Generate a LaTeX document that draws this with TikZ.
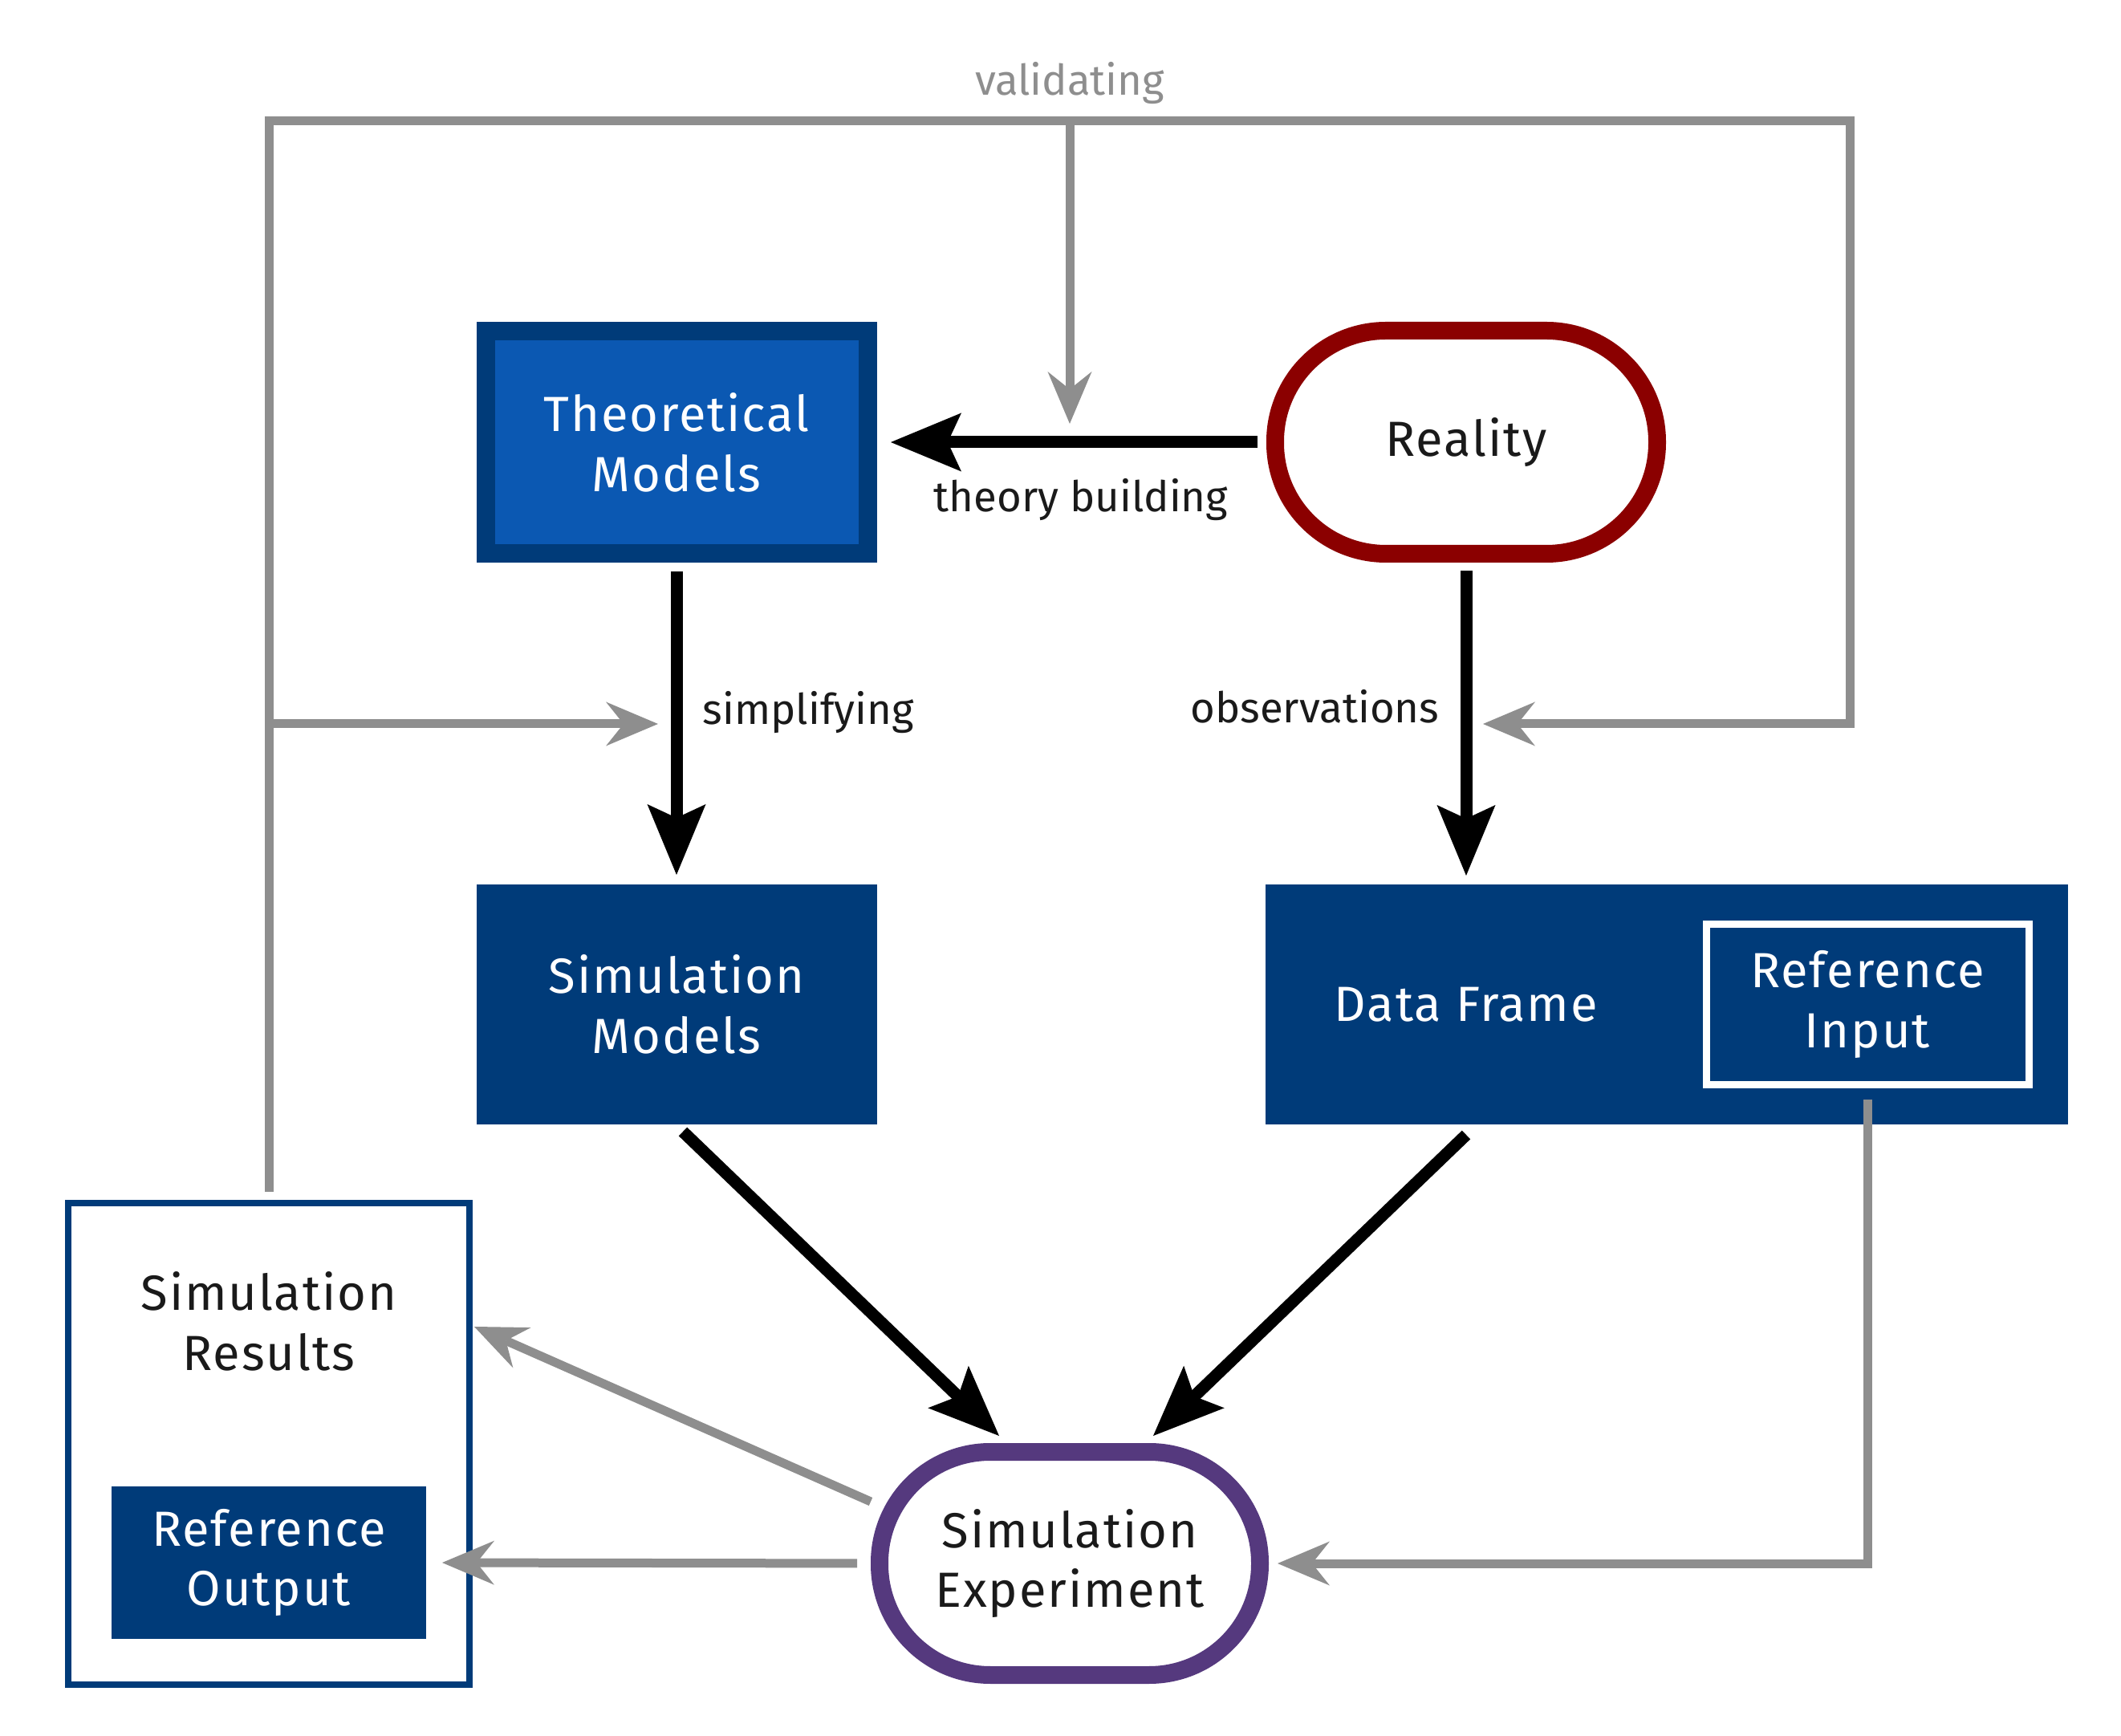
\documentclass[tikz,border=0pt]{standalone}
\usepackage{fontspec}
\setmainfont{Fira Sans}
\newfontfamily\boxfamily[LetterSpace=3]{Fira Sans}
\usepackage{tikz}
\usetikzlibrary{arrows.meta}
\definecolor{darkblue}{HTML}{003B79}
\definecolor{midblue}{HTML}{0B58B2}
\definecolor{realred}{HTML}{8B0000}
\definecolor{simpurple}{HTML}{55397E}
\definecolor{linegray}{HTML}{8E8E8E}
\definecolor{textblack}{HTML}{1A1A1A}
\newcommand{\boxfont}{\boxfamily\fontsize{17.5}{21.3}\selectfont}
\newcommand{\lblfont}{\fontsize{15}{18}\selectfont}
\tikzset{
	box/.style={rectangle,align=center,font=\boxfont,inner sep=0pt,outer sep=0pt,text=white},
	bluebox/.style={box,fill=darkblue,minimum width=4.99cm,minimum height=2.99cm},
	roundbox/.style={box,fill=white,text=textblack,line width=0.22cm,rounded corners=1.38cm,minimum width=4.76cm,minimum height=2.78cm},
	lbl/.style={font=\lblfont,text=textblack,inner sep=0pt},
	blackarrow/.style={draw=black,line width=0.15cm,-{Stealth[length=0.88cm,width=0.73cm,inset=0.17cm,line width=0pt]}},
	grayarrow/.style={draw=linegray,line width=0.11cm,-{Stealth[length=0.65cm,width=0.55cm,inset=0.22cm,line width=0pt]}}
}
\begin{document}
\begin{tikzpicture}
	\useasboundingbox (0,0) rectangle (26.43,-21.63);
	\node[box,fill=midblue,draw=darkblue,line width=0.23cm,minimum width=4.76cm,minimum height=2.77cm] (theo) at (8.43,-5.51) {Theoretical\\Models};
	\node[roundbox,draw=realred] (real) at (18.27,-5.51) {Reality};
	\node[bluebox] (simmod) at (8.43,-12.515) {Simulation\\Models};
	\node[bluebox,minimum width=10cm] (frame) at (20.77,-12.515) {};
	\node[box] (frametxt) at (18.27,-12.515) {Data Frame};
	\node[box,draw=white,line width=0.09cm,minimum width=4.02cm,minimum height=2cm] (refin) at (23.27,-12.515) {Reference\\Input};
	\node[roundbox,draw=simpurple,minimum width=4.74cm] (simexp) at (13.33,-19.48) {Simulation\\Experiment};
	\node[box,draw=darkblue,fill=white,line width=0.08cm,minimum width=5cm,minimum height=6cm] (simres) at (3.35,-17.99) {};
	\node[box,text=textblack] (restxt) at (3.35,-16.46) {Simulation\\Results};
	\node[box,fill=darkblue,minimum width=3.92cm,minimum height=1.9cm] (refout) at (3.35,-19.47) {Reference\\Output};

	\node[lbl,text=linegray,anchor=base] (vallbl) at (13.33,-1.19) {validating};
	\node[lbl,anchor=base west] (theolbl) at (11.63,-6.38) {theory building};
	\node[lbl,anchor=base west] (simplbl) at (8.75,-9.03) {simplifying};
	\node[lbl,anchor=base east] (obslbl) at (17.94,-9.01) {observations};

	\coordinate (vtl) at (3.35,-1.51);
	\coordinate (vtr) at (23.05,-1.51);
	\coordinate (vmid) at (13.33,-1.51);
	\coordinate (vleft) at (3.35,-9.02);
	\coordinate (obsin) at (18.48,-9.02);
	\coordinate (simpin) at (8.2,-9.02);
	\coordinate (theoin) at (13.33,-5.28);

	\draw[grayarrow] ([yshift=0.14cm]simres.north) -- (vtl) -- (vtr) |- (obsin);
	\draw[grayarrow] (vmid) -- (theoin);
	\draw[grayarrow] (vleft) -- (simpin);
	\draw[grayarrow] ([yshift=-0.185cm]refin.south) |- ([xshift=0.22cm]simexp.east);
	\draw[grayarrow,shorten <=0.28cm,shorten >=0.2cm] (simexp.west) -- (refout.east);
	\draw[grayarrow] ([xshift=-2.48cm,yshift=0.77cm]simexp.center) -- ([xshift=0.06cm,yshift=-0.07cm]simres.east |- restxt.center);

	\draw[blackarrow,shorten <=0.22cm,shorten >=0.29cm] (real.west) -- (theo.east);
	\draw[blackarrow,shorten <=0.225cm,shorten >=0.12cm] (theo.south) -- (simmod.north);
	\draw[blackarrow,shorten <=0.21cm,shorten >=0.11cm] (real.south) -- (real.south |- frame.north);
	\draw[blackarrow] ([xshift=0.08cm,yshift=-0.09cm]simmod.south) -- ([xshift=-0.88cm,yshift=0.2cm]simexp.north);
	\draw[blackarrow] ([yshift=-0.13cm]real.south |- frame.south) -- ([xshift=1.04cm,yshift=0.2cm]simexp.north);
\end{tikzpicture}
\end{document}
